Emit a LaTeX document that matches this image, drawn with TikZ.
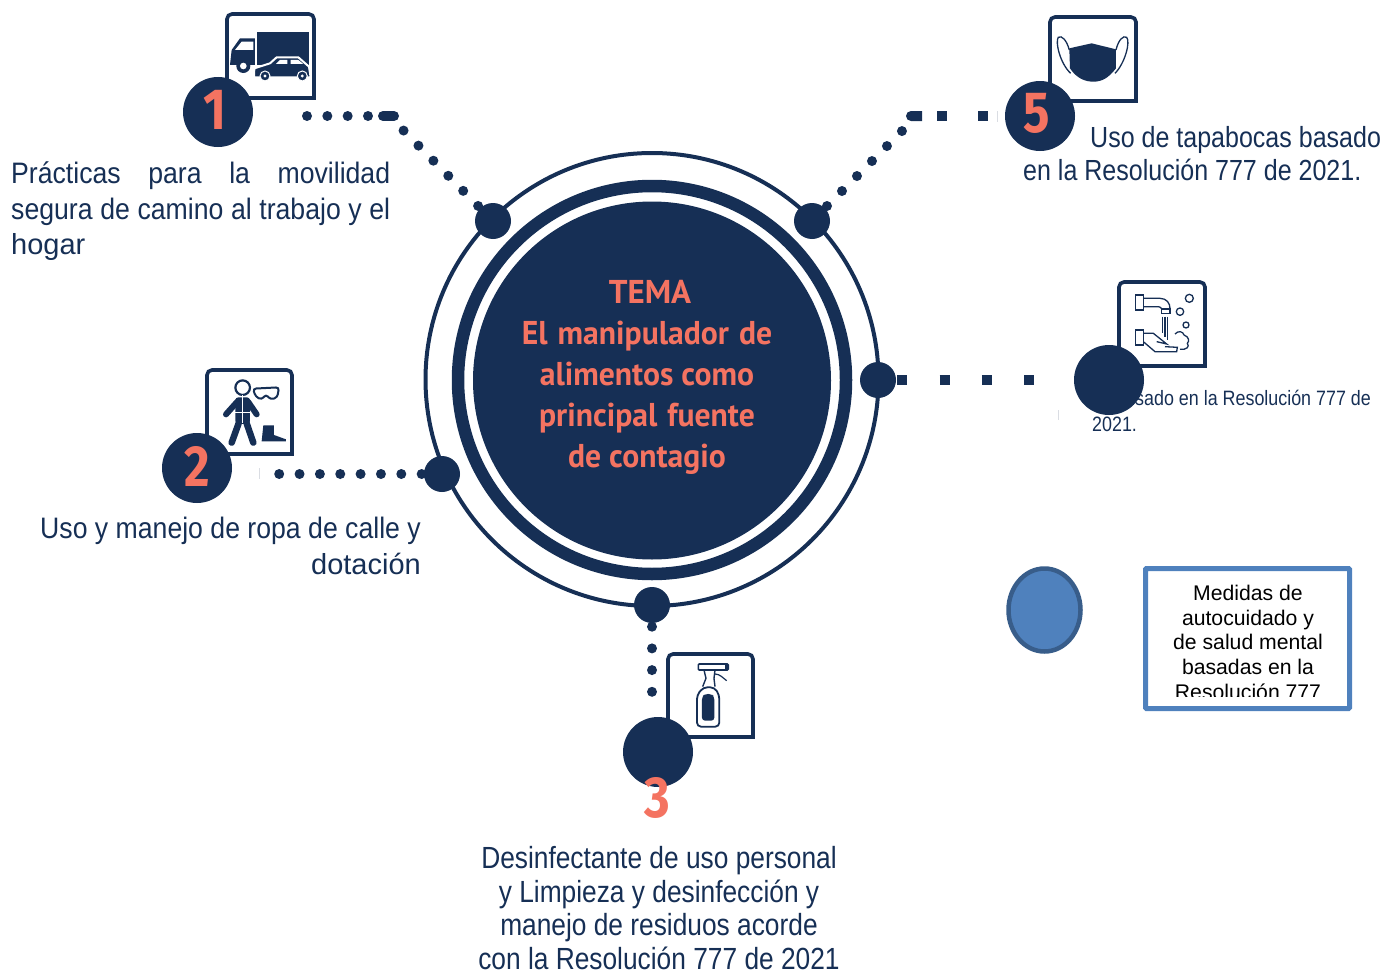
\documentclass[tikz,border=0pt]{standalone}
\usepackage{fontspec}
\usetikzlibrary{shapes.geometric}
\setmainfont{Liberation Sans}
\newfontfamily\bodyf[FakeStretch=0.86]{Liberation Sans}
\newfontfamily\bodyg[FakeStretch=0.9]{Liberation Sans}
\newfontfamily\plainf{Liberation Sans}
\newfontfamily\temaf[FakeStretch=0.96]{PT Sans}
\newfontfamily\temat{PT Sans}
\newfontfamily\numf[FakeStretch=0.85]{Fira Sans}
\definecolor{navy}{HTML}{162F55}
\definecolor{coral}{HTML}{F47361}
\definecolor{bluefill}{HTML}{4F81BD}
\definecolor{blueline}{HTML}{385D8A}
\definecolor{faint}{HTML}{DADDE3}
\tikzset{
  hubnode/.style={circle,fill=navy,minimum size=36pt,inner sep=0pt},
  badge/.style={circle,fill=navy,minimum size=70pt,inner sep=0pt},
  dotcon/.style={navy,line width=10pt,line cap=round,dash pattern=on 0pt off #1},
  sqcon/.style={navy,line width=10pt,dash pattern=on 10pt off #1},
  ring/.style={navy,fill=none},
  iconbox/.style={navy,line width=3.6pt},
  numtxt/.style={coral,inner sep=0pt,font=\numf\bfseries\fontsize{58}{58}\selectfont},
  bodytxt/.style={navy,inner sep=0pt,anchor=north west,font=\bodyg\fontsize{29.6}{35.5}\selectfont,align=left},
  tick/.style={faint,line width=1pt},
  thin/.style={navy,line width=1.3pt,fill=none},
}
\newcommand{\iconframe}[4]{\draw[iconbox,fill=white] (#1,#4) [rounded corners=5pt] -- (#1,#2) -- (#3,#2) [sharp corners] -- (#3,#4) -- cycle;}
\begin{document}
\begin{tikzpicture}[x=1pt,y=-1pt]
\useasboundingbox (0,0) rectangle (1400,974);
% rings
\draw[ring,line width=4pt] (652,379.5) circle[radius=226.5pt];
\draw[ring,line width=12.5pt] (652,380) circle[radius=194pt];
\node[circle,fill=navy,minimum size=358pt,inner sep=0pt] (core) at (652,380.5) {};
\node[inner sep=0pt,coral,align=center,font=\temaf\bfseries\fontsize{33}{41}\selectfont] (tema) at (647,377) {\hspace*{6pt}{\temat\bfseries TEMA}\\El\hspace{2pt} manipulador\hspace{2pt} de\\alimentos como\\principal\hspace{2pt} fuente\\de contagio};
% hubs
\coordinate (k1a) at (403.5,130.5);
\coordinate (k1b) at (307,116);
\coordinate (k1c) at (368,116);
\coordinate (k5a) at (902,131);
\coordinate (k2) at (279,474);
\coordinate (k3) at (652,692);
\coordinate (k4) at (1035,380);
\draw[dotcon=21.2pt] (493,221) -- (k1a);
\draw[dotcon=21.2pt] (812,221) -- (k5a);
\draw[dotcon=20.35pt] (442,474) -- (k2);
\draw[dotcon=21.7pt] (652,605) -- (k3);
\draw[dotcon=20.33pt] (k1b) -- (k1c);
\draw[navy,line width=10pt,line cap=round] (383,116) -- (394,116);
\fill[navy] (922,111) -- (911,111) arc[start angle=90,end angle=270,radius=5pt] -- (922,121) -- cycle;
\fill[navy] (937,111) rectangle (947,121);
\fill[navy] (978,111) rectangle (988,121);
\node[hubnode] (h1) at (493,221) {};
\node[hubnode] (h5) at (812,221) {};
\node[hubnode] (h2) at (442,474) {};
\node[hubnode] (h3) at (652,605) {};
\node[hubnode] (h4) at (878,380) {};
\draw[sqcon=32.3pt] ([xshift=1pt]h4.east) -- (k4);
% faint ticks
\draw[tick] (259,468) -- (259,479);
\draw[tick] (997,111) -- (997,122);
\draw[tick] (1058,410) -- (1058,420);
% icon frames
\iconframe{227}{14}{314}{98}
\iconframe{1050}{17}{1136}{101}
\iconframe{1119}{282}{1205}{366}
\iconframe{207}{370}{292}{454}
\iconframe{668}{654}{753}{737}
% truck and car
\begin{scope}[shift={(170,0)},x=0.3333pt,y=-0.3333pt]
\fill[navy] (260,96) rectangle (416,195);
\fill[navy] (180,195) -- (185,150) -- (210,115) -- (255,115) -- (255,195) -- cycle;
\fill[white] (195,150) -- (215,125) -- (250,125) -- (250,150) -- cycle;
\draw[navy,line width=2pt,fill=navy] (220,198) circle[radius=6pt];
\draw[white,line width=1.5pt,fill=white] (220,198) circle[radius=2.5pt];
\draw[white,line width=2pt,fill=navy] (252,232) -- (253,205) -- (300,190) -- (320,172) -- (385,172) -- (417,200) -- (422,232) -- cycle;
\fill[white] (318,192) -- (330,180) -- (352,180) -- (352,192) -- cycle;
\fill[white] (362,192) -- (362,180) -- (385,180) -- (400,192) -- cycle;
\draw[white,line width=1pt,fill=navy] (285,228) circle[radius=5pt];
\draw[white,line width=1pt,fill=navy] (397,228) circle[radius=5pt];
\fill[white] (285,228) circle[radius=1.6pt];
\fill[white] (397,228) circle[radius=1.6pt];
\end{scope}
% mask
\begin{scope}[shift={(800,0)},x=0.3333pt,y=-0.3333pt]
\fill[navy] (808,145) -- (875,130) -- (948,148) -- (948,205) .. controls (925,235) and (905,245) .. (880,245) .. controls (855,245) and (830,235) .. (810,205) -- cycle;
\draw[navy,line width=1.3pt] (808,150) .. controls (800,120) and (785,105) .. (775,112) .. controls (765,125) and (780,190) .. (812,220);
\draw[navy,line width=1.3pt] (948,150) .. controls (955,120) and (970,105) .. (980,112) .. controls (992,125) and (975,190) .. (945,220);
\end{scope}
% washing hands
\begin{scope}[shift={(1040,270)},x=0.3333pt,y=-0.3333pt]
\draw[thin] (448,85) circle[radius=4pt];
\draw[thin] (420,125) circle[radius=3.7pt];
\draw[thin] (438,165) circle[radius=3pt];
\draw[thin] (287,75) rectangle (310,120);
\draw[thin] (310,85) -- (360,85) .. controls (380,85) and (390,100) .. (390,115);
\draw[thin] (310,110) -- (350,110) .. controls (360,110) and (365,113) .. (366,118);
\draw[thin] (365,117) rectangle (390,131);
\draw[thin] (367,140) -- (367,190);
\draw[thin] (375,140) -- (375,200);
\draw[thin] (383,140) -- (383,210);
\draw[thin] (287,180) rectangle (310,225);
\draw[thin] (310,190) -- (340,190) -- (380,222) -- (350,215);
\draw[thin] (310,215) -- (345,245) -- (410,245) -- (412,232) -- (375,230);
\draw[thin] (405,192) .. controls (415,180) and (430,185) .. (432,195) .. controls (448,200) and (448,215) .. (442,220) .. controls (450,230) and (440,240) .. (420,238);
\end{scope}
% person
\begin{scope}[shift={(150,360)},x=0.3333pt,y=-0.3333pt]
\draw[navy,line width=2.2pt,fill=white] (278,83) circle[radius=7.3pt];
\fill[navy,rounded corners=3pt] (256,112) -- (300,112) -- (300,192) -- (256,192) -- cycle;
\draw[navy,line width=6pt,line cap=round] (262,125) -- (228,163);
\draw[navy,line width=6pt,line cap=round] (294,125) -- (320,163);
\draw[navy,line width=6.5pt,line cap=round] (266,190) -- (245,248);
\draw[navy,line width=6.5pt,line cap=round] (290,190) -- (310,248);
\draw[white,line width=0.6pt] (278,105) -- (278,190);
\draw[white,line width=0.8pt] (255,158) -- (300,158);
\draw[navy,line width=2pt,fill=white,rounded corners=3pt] (309,86) -- (387,82) -- (382,112) -- (362,119) -- (348,103) -- (335,119) -- (317,110) -- cycle;
\fill[navy] (340,196) -- (372,196) -- (372,225) -- (408,238) -- (408,244) -- (335,244) -- cycle;
\end{scope}
% bottle
\begin{scope}[shift={(600,580)},x=0.3333pt,y=-0.3333pt]
\draw[navy,line width=1.6pt,rounded corners=1pt] (295,252) rectangle (385,270);
\fill[navy] (375,252) rectangle (385,270);
\draw[navy,line width=1.4pt] (312,270) -- (318,295) -- (308,320);
\draw[navy,line width=1.4pt] (345,270) -- (342,295) -- (345,320);
\draw[navy,line width=1.2pt] (345,282) .. controls (360,282) and (370,295) .. (380,302);
\draw[navy,line width=1.8pt,rounded corners=4pt,fill=white] (310,322) -- (343,322) -- (358,345) -- (358,440) -- (291,440) -- (291,345) -- cycle;
\fill[navy,rounded corners=3pt] (306,422) -- (306,350) -- (315,342) -- (334,342) -- (343,350) -- (343,422) -- cycle;
\end{scope}
% body texts
\node[bodytxt] (t1) at (11,162) {\hbox to 379pt{Prácticas\hfil para\hfil la\hfil movilidad}\\\hbox to 379pt{segura\hfil de\hfil camino\hfil al\hfil trabajo\hfil y\hfil el}\\{\plainf\fontsize{29}{35.5}\selectfont hogar}};
\node[bodytxt,anchor=north east,align=right] (t2) at (421,517) {Uso y manejo de ropa de calle y\\{\plainf\fontsize{29}{35.5}\selectfont dotación}};
\node[bodytxt,anchor=north,align=center,font=\bodyf\fontsize{30.6}{33.7}\selectfont] (t3) at (659,846) {Desinfectante de uso personal\\y Limpieza y desinfección y\\manejo de residuos acorde\\con la Resolución 777 de 2021};
\node[bodytxt,font=\bodyf\fontsize{29.1}{33}\selectfont] (t5) at (1023,126.5) {\hspace*{67pt}Uso de tapabocas basado\\en la Resolución 777 de 2021.};
\node[bodytxt,font=\bodyf\fontsize{20.8}{26}\selectfont] (t4) at (1092,390) {\hspace*{43pt}sado en la Resolución 777 de\\2021.};
% badges
\node[badge] (b1) at (218,112) {};
\node[badge] (b5) at (1040,116) {};
\node[badge] (b4) at (1109,380) {};
\node[badge] (b2) at (197,468) {};
\node[badge] (b3) at (658,752) {};
\node[numtxt] (n1) at (215,110) {1};
\node[numtxt] (n5) at (1037,113) {5};
\node[numtxt] (n2) at (197,466) {2};
\node[numtxt] (n3) at (657,798) {3};
% blue shapes
\node[ellipse,draw=blueline,fill=bluefill,line width=4.5pt,minimum width=72pt,minimum height=83pt,inner sep=0pt] (oval) at (1044.5,610) {};
\node[draw=bluefill,line width=5pt,minimum width=204pt,minimum height=140pt,inner sep=0pt,rounded corners=1pt] (note) at (1247.5,638.5) {};
\begin{scope}
\clip (1150,570) rectangle (1345,696.5);
\node[inner sep=0pt,anchor=north,align=center,black,font=\plainf\fontsize{21.2}{24.7}\selectfont] (notetxt) at (1248,585) {Medidas de\\autocuidado y\\de salud mental\\basadas en la\\Resolución 777};
\end{scope}
\end{tikzpicture}
\end{document}
